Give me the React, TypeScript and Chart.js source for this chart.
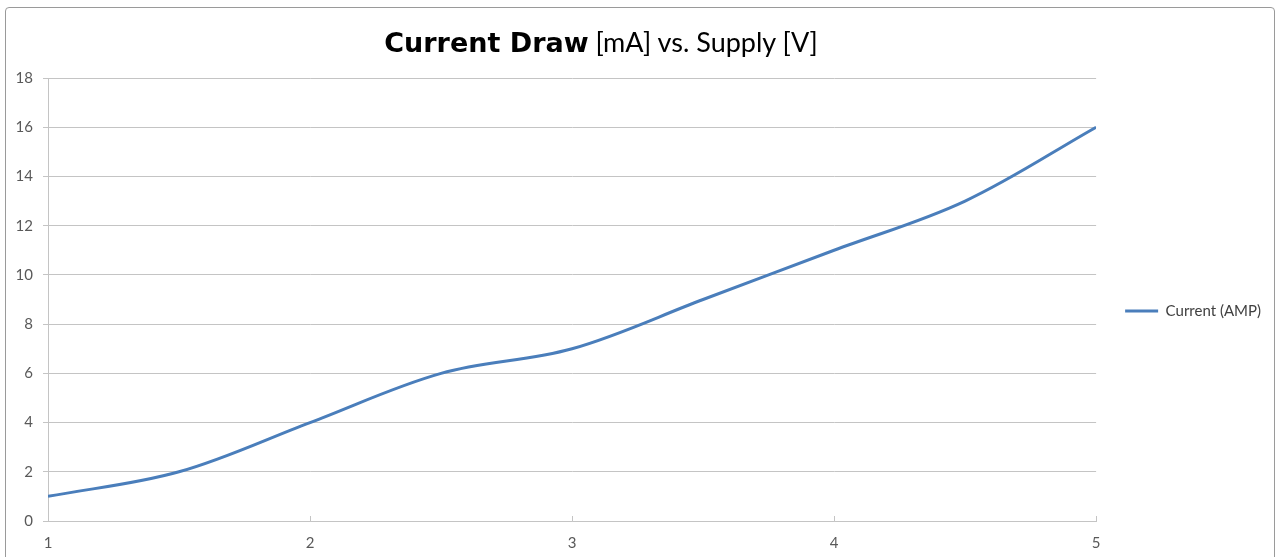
import React, { useEffect, useRef } from "react";
import { Chart, registerables } from "chart.js";

Chart.register(...registerables);

// ---- Data ----
const supplyVolts: number[] = [1, 1.5, 2, 2.5, 3, 3.5, 4, 4.5, 5];
const currentMA: number[] = [1, 2, 4, 6, 7, 9, 11, 13, 16];
const seriesLabel = "Current (AMP)";
const titleBold = "Current Draw";
const titleRest = "[mA] vs. Supply [V]";
const xMin = 1;
const xMax = 5;
const yMin = 0;
const yMax = 18;
const yStep = 2;
const xStep = 1;

const LINE_COLOR = "#4a7ebb";
const GRID_COLOR = "#c4c4c4";
const TICK_COLOR = "#595959";
const AXIS_FONT = "Lato, 'Open Sans', sans-serif";

const innerXTicks = {
  id: "innerXTicks",
  afterDatasetsDraw(chart: any) {
    const s = chart.scales.x;
    const ctx = chart.ctx;
    ctx.save();
    ctx.strokeStyle = GRID_COLOR;
    ctx.lineWidth = 1;
    s.ticks.forEach((_t: any, i: number) => {
      const px = Math.round(s.getPixelForTick(i)) + 0.5;
      ctx.beginPath();
      ctx.moveTo(px, s.top);
      ctx.lineTo(px, s.top - 5);
      ctx.stroke();
    });
    ctx.restore();
  },
};

export default function App() {
  const canvasRef = useRef<HTMLCanvasElement | null>(null);

  useEffect(() => {
    if (!canvasRef.current) return;
    const points = supplyVolts.map((v, i) => ({ x: v, y: currentMA[i] }));
    const chart = new Chart(canvasRef.current, {
      type: "line",
      data: {
        datasets: [
          {
            label: seriesLabel,
            data: points,
            borderColor: LINE_COLOR,
            backgroundColor: LINE_COLOR,
            borderWidth: 3,
            pointRadius: 0,
            pointHoverRadius: 0,
            tension: 0.35,
            fill: false,
          },
        ],
      },
      options: {
        responsive: false,
        animation: false,
        layout: { padding: { left: 0, right: 6, top: 65, bottom: 0 } },
        plugins: {
          // spacer only (the visible mixed-font title is HTML text above)
          title: {
            display: true,
            text: " ",
            fullSize: false,
            font: { size: 1, lineHeight: 1 },
            padding: { top: 12, bottom: 0 },
          },
          tooltip: { enabled: false },
          legend: {
            display: true,
            position: "right",
            labels: {
              usePointStyle: true,
              pointStyle: "line",
              pointStyleWidth: 33,
              boxHeight: 3,
              padding: 29,
              color: "#404040",
              font: { family: AXIS_FONT, size: 15 },
            },
          },
        },
        scales: {
          x: {
            type: "linear",
            min: xMin,
            max: xMax,
            afterFit: (s: any) => {
              s.height = 36;
            },
            ticks: {
              stepSize: xStep,
              color: TICK_COLOR,
              padding: 13,
              font: { family: AXIS_FONT, size: 15 },
            },
            grid: { drawOnChartArea: false, drawTicks: false, tickLength: 0 },
            border: { display: true, color: GRID_COLOR, width: 1 },
          },
          y: {
            type: "linear",
            min: yMin,
            max: yMax,
            afterFit: (s: any) => {
              s.width = 48;
            },
            ticks: {
              stepSize: yStep,
              color: TICK_COLOR,
              padding: 10,
              font: { family: AXIS_FONT, size: 15 },
            },
            grid: { color: GRID_COLOR, lineWidth: 1, tickLength: 5, drawTicks: true },
            border: { display: true, color: GRID_COLOR, width: 1 },
          },
        },
      },
      plugins: [innerXTicks],
    });
    return () => chart.destroy();
  }, []);

  return (
    <div
      style={{
        position: "absolute",
        left: 0,
        top: 0,
        width: 1277,
        height: 557,
        overflow: "hidden",
        background: "#ffffff",
      }}
    >
      <div
        style={{
          position: "absolute",
          left: 5,
          top: 7,
          width: 1270,
          height: 600,
          border: "1px solid #9a9a9a",
          borderRadius: 4,
          boxSizing: "border-box",
        }}
      />
      <canvas
        ref={canvasRef}
        width={1277}
        height={557}
        style={{ position: "absolute", left: 0, top: 0, width: 1277, height: 557 }}
      />
      <div
        style={{
          position: "absolute",
          left: 0,
          top: 26,
          width: 1202,
          textAlign: "center",
          whiteSpace: "nowrap",
          lineHeight: "32px",
          color: "#000000",
        }}
      >
        <span
          style={{
            fontFamily: "'DejaVu Sans', sans-serif",
            fontWeight: 700,
            fontSize: 27,
          }}
        >
          {titleBold}
        </span>
        <span style={{ fontFamily: AXIS_FONT, fontSize: 27 }}>{" " + titleRest}</span>
      </div>
    </div>
  );
}
